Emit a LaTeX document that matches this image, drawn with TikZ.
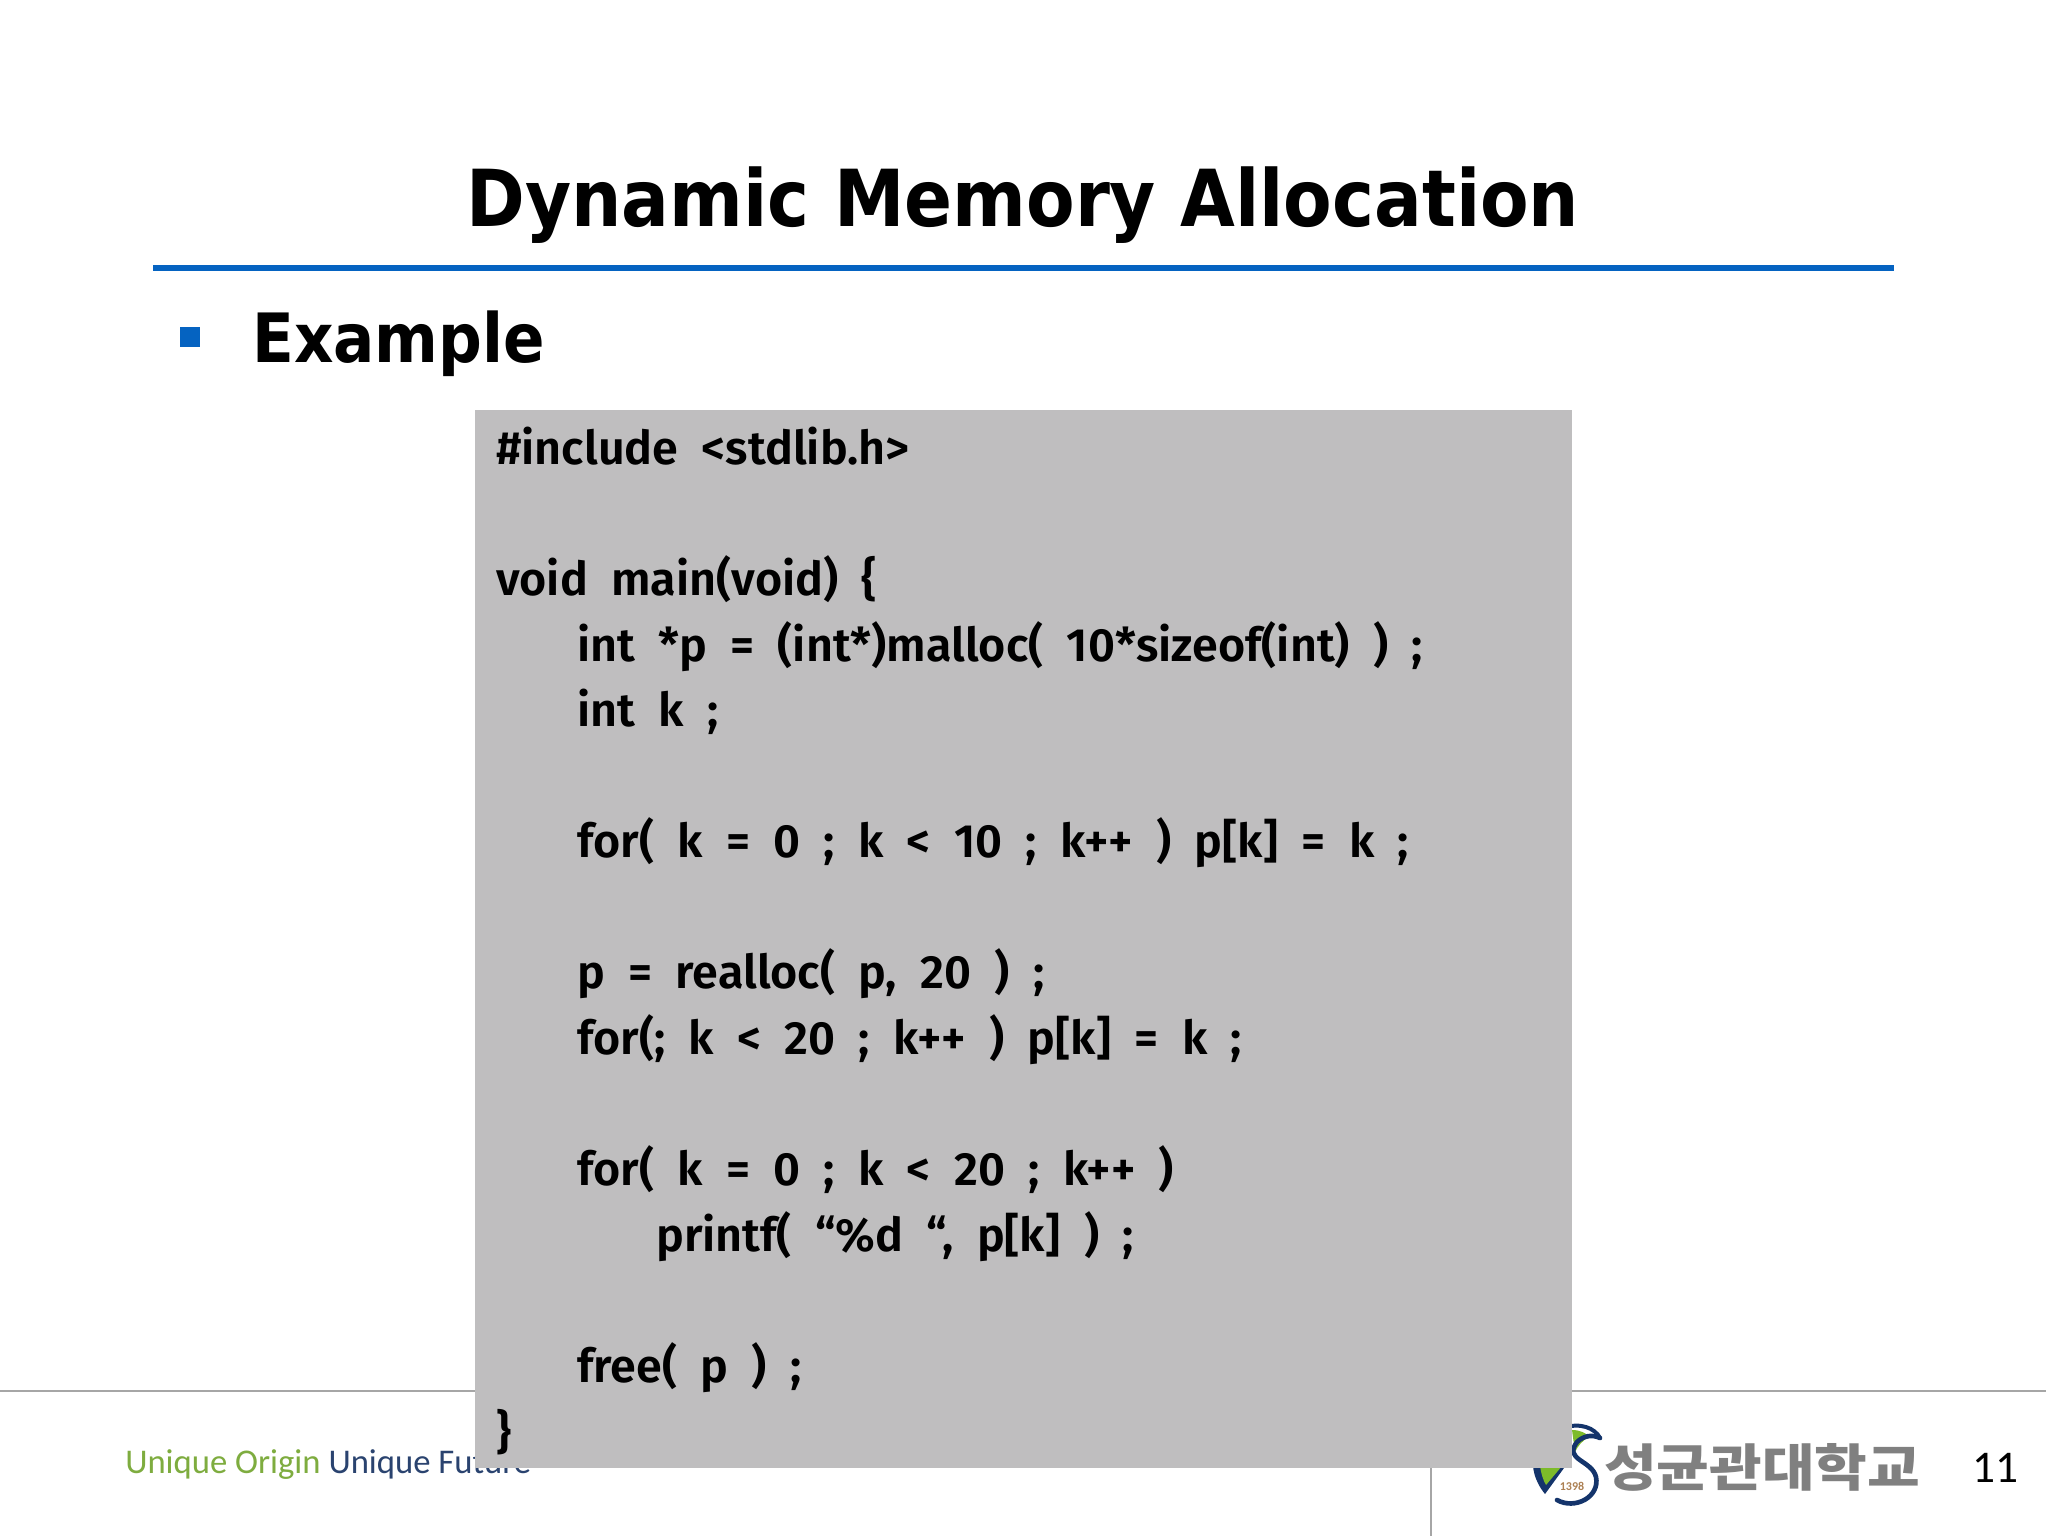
\documentclass[tikz,border=0pt]{standalone}
\usepackage{fontspec}
\setmainfont{DejaVu Sans}
\newfontfamily\titlefont{DejaVu Sans Condensed}
\newfontfamily\codefont[WordSpace=2.05]{Fira Sans SemiBold}
\newfontfamily\footfont{Carlito}
\newfontfamily\korfont[FakeStretch=1.13]{Noto Sans CJK KR}
\definecolor{rulegray}{HTML}{A6A6A6}
\definecolor{barblue}{HTML}{0563C1}
\definecolor{codegray}{HTML}{BFBEBF}
\definecolor{logonavy}{HTML}{14346B}
\definecolor{logogreen}{HTML}{7DBB2A}
\begin{document}
\begin{tikzpicture}[x=0.75pt,y=-0.75pt,
    title/.style ={font=\titlefont\bfseries\fontsize{59}{72}\selectfont, inner sep=0pt},
    heading/.style ={font=\titlefont\bfseries\fontsize{51}{60}\selectfont, inner sep=0pt},
    codebox/.style ={fill=codegray, anchor=north west, inner sep=0pt, minimum width=822.75pt, minimum height=793.5pt},
    codeline/.style ={font=\codefont\fontsize{35}{42}\selectfont, inner sep=0pt, anchor=base west}]
   \useasboundingbox (0,0) rectangle (2048,1536);
   % header
   \node[title, anchor=base] (head) at (1023,226) {Dynamic Memory Allocation};
   \coordinate (barL) at (153,268);
   \coordinate (barR) at (1894,268);
   \draw[barblue, line width=4.5pt] (barL) to (barR);
   \node[fill=barblue, inner sep=0pt, minimum size=15pt] (bullet) at (190,337) {};
   \node[heading, anchor=base west] (example) at (252,362) {Example};
   % footer
   \coordinate (footL) at (0,1391);
   \coordinate (footR) at (2046,1391);
   \coordinate (sepT) at (1431,1391);
   \coordinate (sepB) at (1431,1536);
   \draw[rulegray, line width=1.5pt] (footL) to (footR);
   \draw[rulegray, line width=1.5pt] (sepT) to (sepB);
   \node[font=\footfont\fontsize{26}{30}\selectfont, inner sep=0pt, anchor=base west] (motto) at (125,1473)
      {\textcolor{logogreen!75!gray}{Unique Origin} \textcolor{logonavy!80!gray}{Unique Future}};
   % logo
   \fill[logogreen] (1572,1430) .. controls (1580,1430) and (1586,1433) .. (1590,1437) .. controls (1582,1440) and (1578,1446) .. (1575,1452) -- cycle;
   \fill[logonavy] (1533,1466) .. controls (1534,1478) and (1540,1488) .. (1545,1494) -- (1564,1468) -- cycle;
   \fill[logogreen] (1540,1466) -- (1562,1466) -- (1546,1485) .. controls (1543,1480) and (1541,1473) .. (1540,1466) -- cycle;
   \draw[logonavy, line width=3.5pt, line cap=round] (1557,1500) .. controls (1575,1510) and (1600,1497) .. (1596,1477)
      .. controls (1592,1460) and (1563,1460) .. (1577,1442) .. controls (1583,1436) and (1592,1434) .. (1600,1438);
   \draw[logonavy, line width=3pt, line cap=round] (1563,1428) .. controls (1580,1422) and (1595,1428) .. (1600,1438);
   \node[font=\footfont\bfseries\fontsize{9}{9}\selectfont, text=brown!70!gray, inner sep=0pt] (year) at (1572,1486) {1398};
   \node[font=\korfont\bfseries\fontsize{38}{42}\selectfont, text=gray, inner sep=0pt] (school) at (1762,1467) {성균관대학교};
   \node[font=\footfont\fontsize{34}{38}\selectfont, inner sep=0pt, anchor=base] (pagenum) at (1995,1482) {11};
   % code panel
   \node[codebox] (panel) at (475,410) {};
   \node[codeline] (l1) at (496,464) {\#include <stdlib.h>};
   \node[codeline] (l2) at (496,595) {void main(void) \{};
   \node[codeline] (l3) at (577,661) {int *p = (int*)malloc( 10*sizeof(int) ) ;};
   \node[codeline] (l4) at (577,726) {int k ;};
   \node[codeline] (l5) at (577,857) {for( k = 0 ; k < 10 ; k++ ) p[k] = k ;};
   \node[codeline] (l6) at (577,988) {p = realloc( p, 20 ) ;};
   \node[codeline] (l7) at (577,1054) {for(; k < 20 ; k++ ) p[k] = k ;};
   \node[codeline] (l8) at (577,1185) {for( k = 0 ; k < 20 ; k++ )};
   \node[codeline] (l9) at (656,1251) {printf( “\%d “, p[k] ) ;};
   \node[codeline] (l10) at (577,1382) {free( p ) ;};
   \node[codeline] (l11) at (496,1448) {\}};
\end{tikzpicture}
\end{document}
